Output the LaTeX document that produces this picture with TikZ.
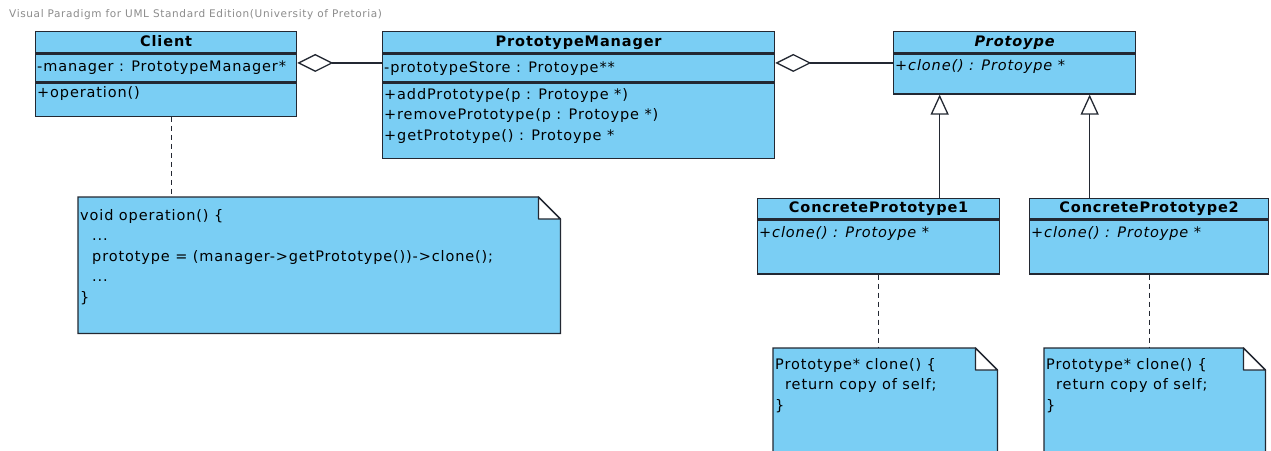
\documentclass[tikz,border=0pt]{standalone}
\usepackage{fontspec}
\usetikzlibrary{arrows.meta,positioning}
\newfontfamily\umlfont[LetterSpace=6]{DejaVu Sans}
\definecolor{umlBlue}{RGB}{122,206,244}
\definecolor{umlLine}{RGB}{35,40,50}
\definecolor{markGray}{RGB}{140,140,140}
\def \foldSize {22}

\tikzset{
  compartment/.style={draw=umlLine, fill=umlBlue, line width=1.3pt, inner sep=0pt, anchor=north west},
  classname/.style={font=\umlfont\fontsize{14.5}{17}\selectfont\bfseries, text height=11pt, text depth=3pt},
  member/.style={anchor=base west, inner sep=0pt, align=left, font=\umlfont\fontsize{14.5}{20.5}\selectfont},
  notearea/.style={anchor=north west, inner sep=0pt},
  aggregation/.style={draw=umlLine, line width=1.3pt, -{Diamond[open, length=36pt, width=18pt]}},
  generalization/.style={draw=umlLine, line width=1.3pt, -{Triangle[open, length=20pt, width=18pt]}},
  anchorline/.style={draw=umlLine, line width=1.3pt, dash pattern=on 5pt off 4pt}
}

\newcommand{\umlnote}[1]{%
  \draw[umlLine, fill=umlBlue, line width=1.3pt] (#1.north west) -- ([xshift=-\foldSize pt]#1.north east)
    -- ([yshift=-\foldSize pt]#1.north east) -- (#1.south east) -- (#1.south west) -- cycle;
  \draw[umlLine, fill=white, line width=1.3pt, line join=round] ([xshift=-\foldSize pt]#1.north east)
    -- ([xshift=-\foldSize pt, yshift=-\foldSize pt]#1.north east) -- ([yshift=-\foldSize pt]#1.north east) -- cycle;
}

\begin{document}
\begin{tikzpicture}[x=1pt, y=-1pt]
   \useasboundingbox[fill=white] (0,0) rectangle (1271,450);
   \node[anchor=base west, inner sep=0pt, text=markGray, font=\umlfont\fontsize{10.5}{12}\selectfont] (watermark) at (9,17)
      {Visual Paradigm for UML Standard Edition(University of Pretoria)};

   % Client
   \node[compartment, classname, minimum width=261pt, minimum height=21pt] (clientTitle) at (35,31) {Client};
   \node[compartment, minimum width=261pt, minimum height=28pt] (clientAttr) at (clientTitle.south west) {};
   \node[compartment, minimum width=261pt, minimum height=33pt] (clientOps) at (clientAttr.south west) {};
   \node[member] (clientAttrText) at (37,71) {-manager : PrototypeManager*};
   \node[member] (clientOpsText) at (37,97) {+operation()};

   % PrototypeManager
   \node[compartment, classname, minimum width=392pt, minimum height=21pt] (pmTitle) at (382,31) {PrototypeManager};
   \node[compartment, minimum width=392pt, minimum height=28pt] (pmAttr) at (pmTitle.south west) {};
   \node[compartment, minimum width=392pt, minimum height=75pt] (pmOps) at (pmAttr.south west) {};
   \node[member] (pmAttrText) at (384,72) {-prototypeStore : Protoype**};
   \node[member] (pmOpsText) at (384,140) {+addPrototype(p : Protoype *)\\+removePrototype(p : Protoype *)\\+getPrototype() : Protoype *};

   % Protoype
   \node[compartment, classname, minimum width=242pt, minimum height=21pt, font=\umlfont\fontsize{14.5}{17}\selectfont\bfseries\itshape] (protoTitle) at (893,31) {Protoype};
   \node[compartment, minimum width=242pt, minimum height=40pt] (protoOps) at (protoTitle.south west) {};
   \node[member, font=\umlfont\fontsize{14.5}{20.5}\selectfont\itshape] (protoOpsText) at (895,70) {+clone() : Protoype *};

   % concrete prototypes
   \node[compartment, classname, minimum width=242pt, minimum height=20pt] (cpOneTitle) at (757,198) {ConcretePrototype1};
   \node[compartment, minimum width=242pt, minimum height=54pt] (cpOneOps) at (cpOneTitle.south west) {};
   \node[member, font=\umlfont\fontsize{14.5}{20.5}\selectfont\itshape] (cpOneOpsText) at (759,237) {+clone() : Protoype *};
   \node[compartment, classname, minimum width=239pt, minimum height=20pt] (cpTwoTitle) at (1029,198) {ConcretePrototype2};
   \node[compartment, minimum width=239pt, minimum height=54pt] (cpTwoOps) at (cpTwoTitle.south west) {};
   \node[member, font=\umlfont\fontsize{14.5}{20.5}\selectfont\itshape] (cpTwoOpsText) at (1031,237) {+clone() : Protoype *};

   % notes
   \node[notearea, minimum width=482pt, minimum height=136pt] (clientNote) at (78,197) {};
   \umlnote{clientNote}
   \node[member] (clientNoteText) at (80,302)
      {void operation() \{\\\hspace*{12pt}...\\\hspace*{12pt}prototype = (manager->getPrototype())->clone();\\\hspace*{12pt}...\\\}};
   \node[notearea, minimum width=224pt, minimum height=112pt] (cpOneNote) at (773,348) {};
   \umlnote{cpOneNote}
   \node[member] (cpOneNoteText) at (775,410) {Prototype* clone() \{\\\hspace*{10pt}return copy of self;\\\}};
   \node[notearea, minimum width=221pt, minimum height=112pt] (cpTwoNote) at (1044,348) {};
   \umlnote{cpTwoNote}
   \node[member] (cpTwoNoteText) at (1046,410) {Prototype* clone() \{\\\hspace*{10pt}return copy of self;\\\}};

   % connectors
   \draw[aggregation] ([yshift=5pt]pmAttr.west) -- ([yshift=5pt]clientAttr.east);
   \draw[aggregation] ([yshift=11pt]protoOps.west) -- ([yshift=11pt]protoOps.west -| pmAttr.east);
   \draw[generalization] ([xshift=-75pt]protoOps.south |- cpOneTitle.north) -- ([xshift=-75pt]protoOps.south);
   \draw[generalization] ([xshift=75pt]protoOps.south |- cpTwoTitle.north) -- ([xshift=75pt]protoOps.south);
   \draw[anchorline] ([xshift=5.5pt]clientOps.south) -- ([xshift=5.5pt]clientOps.south |- clientNote.north);
   \draw[anchorline] (cpOneOps.south) -- (cpOneOps.south |- cpOneNote.north);
   \draw[anchorline] (cpTwoOps.south) -- (cpTwoOps.south |- cpTwoNote.north);
\end{tikzpicture}
\end{document}
